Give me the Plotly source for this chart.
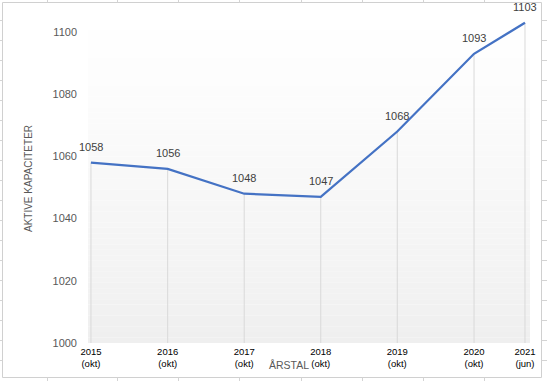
import plotly.graph_objects as go

# ---- data ----
dates = ["2015-10-01", "2016-10-01", "2017-10-01", "2018-10-01",
         "2019-10-01", "2020-10-01", "2021-06-01"]
years = ["2015", "2016", "2017", "2018", "2019", "2020", "2021"]
months = ["okt", "okt", "okt", "okt", "okt", "okt", "jun"]
values = [1058, 1056, 1048, 1047, 1068, 1093, 1103]
y_ticks = [1000, 1020, 1040, 1060, 1080, 1100]

W, H = 547, 381
ML, MR, MT, MB = 88, 17, 14, 38
FONT = "Liberation Sans"

tick_text = [f"{y}<br>({m})" for y, m in zip(years, months)]

# drop lines built from data
drop_x, drop_y = [], []
for d, v in zip(dates, values):
    drop_x += [d, d, None]
    drop_y += [1000, v, None]

fig = go.Figure()
fig.add_trace(go.Scatter(x=drop_x, y=drop_y, mode="lines",
                         line=dict(color="#d9d9d9", width=1),
                         hoverinfo="skip", showlegend=False))
fig.add_trace(go.Scatter(x=dates, y=values, mode="lines",
                         line=dict(color="#4472C4", width=2.25),
                         cliponaxis=False, showlegend=False))

# pixel -> paper (plot-area relative) conversion
PW, PH = W - ML - MR, H - MT - MB
def px_x(p): return (p - ML) / PW
def px_y(p): return (H - MB - p) / PH

annotations = [dict(text=str(v), x=d, y=v, xref="x", yref="y",
                    showarrow=False, yshift=16, xanchor="center",
                    yanchor="middle",
                    font=dict(family=FONT, size=11, color="#404040"))
               for d, v in zip(dates, values)]
annotations.append(dict(text="ÅRSTAL", xref="paper", yref="paper",
                        x=px_x(289), y=px_y(365), showarrow=False,
                        xanchor="center", yanchor="middle",
                        font=dict(family=FONT, size=10.5, color="#595959")))

shapes = []
# gradient plot background
n = 60
for i in range(n):
    t = (i + 0.5) / n  # 0 top -> 1 bottom
    g = round(255 - 16 * t ** 1.2)
    shapes.append(dict(type="rect", xref="x domain", yref="y domain",
                       x0=0, x1=1, y0=1 - (i + 1) / n, y1=1 - i / n,
                       fillcolor=f"rgb({g},{g},{g})", line=dict(width=0),
                       layer="below"))

# chart border
shapes.append(dict(type="rect", xref="paper", yref="paper",
                   x0=px_x(2.5), x1=px_x(541.5), y0=px_y(377.5), y1=px_y(2.5),
                   line=dict(color="#d0d0d0", width=1), layer="above"))
# surrounding spreadsheet cell lines
for xc in [47, 117, 178, 239, 301, 362, 423, 484]:
    shapes.append(dict(type="line", xref="paper", yref="paper",
                       x0=px_x(xc + .5), x1=px_x(xc + .5), y0=px_y(0), y1=px_y(2.5),
                       line=dict(color="#d4d4d4", width=1)))
    shapes.append(dict(type="line", xref="paper", yref="paper",
                       x0=px_x(xc + .5), x1=px_x(xc + .5), y0=px_y(377.5), y1=px_y(381),
                       line=dict(color="#d4d4d4", width=1)))
for yc in range(20, 380, 20):
    shapes.append(dict(type="line", xref="paper", yref="paper",
                       x0=px_x(0), x1=px_x(2.5), y0=px_y(yc + .5), y1=px_y(yc + .5),
                       line=dict(color="#d4d4d4", width=1)))
    shapes.append(dict(type="line", xref="paper", yref="paper",
                       x0=px_x(541.5), x1=px_x(547), y0=px_y(yc + .5), y1=px_y(yc + .5),
                       line=dict(color="#d4d4d4", width=1)))

fig.update_layout(
    width=W, height=H,
    margin=dict(l=ML, r=MR, t=MT, b=MB),
    paper_bgcolor="white", plot_bgcolor="white",
    font=dict(family=FONT),
    shapes=shapes,
    annotations=annotations,
    xaxis=dict(type="date", range=["2015-09-17", "2021-06-25"],
               tickvals=dates, ticktext=tick_text,
               tickfont=dict(family=FONT, size=9.5, color="#000000"),
               showgrid=False, showline=False, zeroline=False,
               ticks="", ticklabelstandoff=1),
    yaxis=dict(range=[1000, 1105.8], tickvals=y_ticks,
               tickfont=dict(family=FONT, size=11, color="#595959"),
               showgrid=False, showline=False, zeroline=False,
               ticks="", ticklabelstandoff=10,
               title=dict(text="AKTIVE KAPACITETER",
                          font=dict(family=FONT, size=10, color="#595959"),
                          standoff=18)),
)

fig.write_html("out.html",
               config={"displayModeBar": False},
               post_script="document.body.style.margin='0';"
                           "document.body.style.overflow='hidden';")
